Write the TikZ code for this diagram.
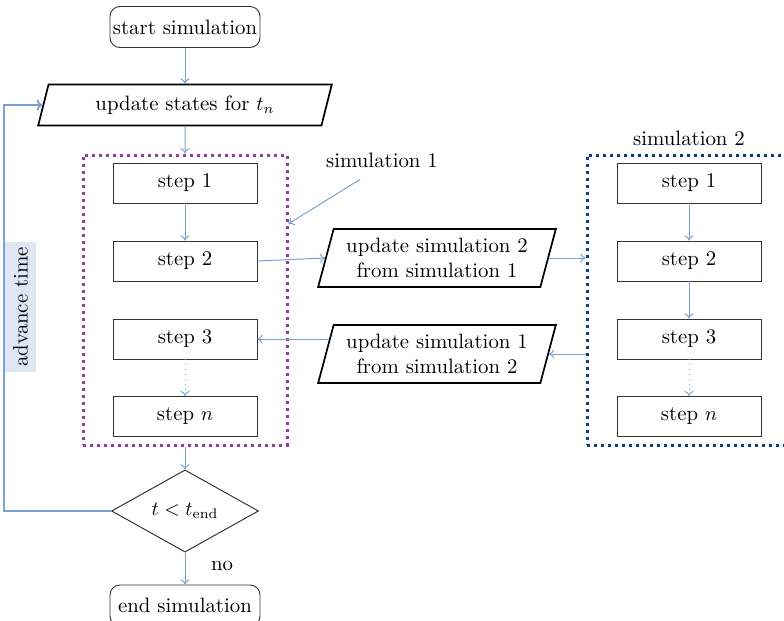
\documentclass[tikz,border=0pt]{standalone}
\usetikzlibrary{shapes.geometric,arrows.meta,calc}
\definecolor{arr}{RGB}{122,162,210}
\definecolor{simone}{RGB}{145,62,155}
\definecolor{simtwo}{RGB}{12,60,130}
\definecolor{advfill}{RGB}{222,231,243}
\begin{document}
\begin{tikzpicture}[x=0.5pt,y=-0.5pt,
  every node/.style={font=\fontsize{10.4}{12.4}\selectfont},
  stepbox/.style={draw=black!80,line width=0.45pt,minimum width=72pt,minimum height=20pt,inner sep=0pt},
  termbox/.style={draw=black!80,line width=0.45pt,rounded corners=5pt,minimum width=75pt,minimum height=20.5pt,inner sep=0pt},
  para/.style={draw=black,line width=0.85pt,trapezium,trapezium stretches=true,trapezium left angle=71,trapezium right angle=109,inner sep=0pt,align=center},
  simframe/.style={line width=1.5pt,dash pattern=on 1.5pt off 2pt,minimum width=102pt,minimum height=145pt,inner sep=0pt},
  con/.style={draw=arr,line width=0.5pt,-{To[length=2.6pt,width=4.6pt]}},
  fb/.style={draw=arr,line width=0.9pt,-{To[length=3pt,width=5.5pt]}}]
\useasboundingbox (0,0) rectangle (784,621);
\clip (0,0) rectangle (784,621);

% main column
\node[termbox] (start) at (185,27) {start simulation};
\node[para,minimum width=148pt,minimum height=20.5pt,trapezium left angle=70,trapezium right angle=110] (ust) at (185,105) {update states for $t_n$};

\node[simframe,draw=simone] (sim1) at (185,300) {};
\node[stepbox] (a1) at (185,183) {step 1};
\node[stepbox] (a2) at (185,261) {step 2};
\node[stepbox] (a3) at (185,339) {step 3};
\node[stepbox] (an) at (185,416.5) {step $n$};

\node[draw=black!85,line width=0.45pt,diamond,minimum width=73.5pt,minimum height=37pt,inner sep=0pt] (dec) at (185,511) {$t < t_{\mathrm{end}}$};
\node[termbox] (end) at (185,605.5) {end simulation};
\node (no) at (222,566) {no};

% simulation 1 label
\node (lbl1) at (382,160) {simulation 1};

% middle parallelograms
\node[para,minimum width=119pt,minimum height=29pt] (u2) at (437,258) {update simulation 2\\from simulation 1};
\node[para,minimum width=119pt,minimum height=29pt] (u1) at (437,354) {update simulation 1\\from simulation 2};

% simulation 2
\node[simframe,draw=simtwo] (sim2) at (689,300) {};
\node (lbl2) at (689,138) {simulation 2};
\node[stepbox] (b1) at (689,183) {step 1};
\node[stepbox] (b2) at (689,261) {step 2};
\node[stepbox] (b3) at (689,339) {step 3};
\node[stepbox] (bn) at (689,416.5) {step $n$};

% advance time
\coordinate (lx) at (4,511);
\coordinate (ustl) at ($(ust.top left corner)!0.5!(ust.bottom left corner)$);
\draw[fb] (dec.west) -- (lx) |- (ustl);
\node[fill=advfill,rotate=90,inner sep=2.5pt,minimum height=15.5pt] (adv) at (20.5,307) {advance time};

% connectors
\draw[con] (start) -- (ust);
\draw[con] (ust.south) -- (sim1.north);
\draw[con] (a1) -- (a2);
\draw[con,dotted] (a3) -- (an);
\draw[con] (sim1.south) -- (dec.north);
\draw[con] (dec.south) -- (end.north);

\draw[con] (b1) -- (b2);
\draw[con] (b2) -- (b3);
\draw[con,dotted] (b3) -- (bn);

\coordinate (u2l) at ($(u2.top left corner)!0.5!(u2.bottom left corner)$);
\coordinate (u2r) at ($(u2.top right corner)!0.5!(u2.bottom right corner)$);
\coordinate (u1r) at ($(u1.top right corner)!0.5!(u1.bottom right corner)$);
\coordinate (u1l) at ($(u1.top left corner)!0.25!(u1.bottom left corner)$);
\draw[con] (a2.east) -- (u2l);
\draw[con] (u2r) -- (u2r -| sim2.west);
\draw[con] (u1r -| sim2.west) -- (u1r);
\draw[con] (u1l) -- (u1l -| a3.east);

\coordinate (s1p) at ($(sim1.north east)!0.24!(sim1.south east)$);
\draw[con] ($(lbl1.south)+(-22,5)$) -- (s1p);
\end{tikzpicture}
\end{document}
